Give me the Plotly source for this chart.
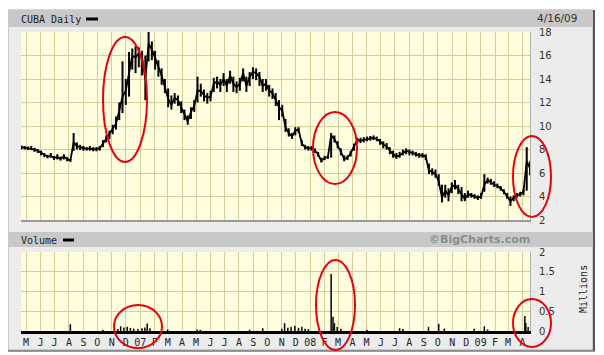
import plotly.graph_objects as go
import pandas as pd

# ---------------- data ----------------
week_start = "2006-04-21"
close_weekly = [
    8.2, 8.15, 8.1, 8.1, 8.0, 7.9, 7.7, 7.55, 7.4, 7.45,
    7.3, 7.35, 7.2, 7.4, 7.2, 7.05, 8.6, 8.3, 8.2, 8.1,
    8.05, 8.1, 8.0, 8.05, 8.1, 8.5, 8.9, 9.3, 9.7, 10.2,
    11.3, 12.5, 13.0, 14.5, 16.0, 15.8, 16.2, 15.8, 14.0, 17.0,
    16.5, 15.8, 15.0, 14.3, 13.3, 12.3, 11.8, 12.4, 12.2, 11.6,
    11.0, 10.4, 11.2, 11.7, 13.0, 13.0, 12.6, 12.4, 12.5, 13.6,
    13.8, 13.5, 14.0, 13.4, 14.3, 13.6, 13.3, 13.6, 14.5, 13.4,
    14.2, 14.6, 14.5, 14.2, 13.4, 13.6, 13.0, 12.8, 12.2, 11.6,
    11.3, 9.9, 9.4, 9.1, 9.6, 9.7, 8.5, 8.2, 8.1, 8.1,
    7.9, 7.6, 7.0, 7.3, 7.36, 9.2, 8.9, 8.4, 7.8, 7.2,
    7.3, 7.7, 8.2, 8.8, 8.75, 8.8, 8.9, 8.95, 9.0, 8.9,
    8.7, 8.4, 8.3, 7.9, 7.6, 7.4, 7.5, 7.7, 7.9, 7.8,
    7.7, 7.6, 7.5, 7.5, 7.4, 6.2, 6.1, 5.9, 5.3, 3.9,
    4.5, 4.1, 4.8, 5.0, 4.6, 4.3, 3.8, 4.2, 4.1, 4.0,
    3.9, 4.0, 5.0, 5.4, 5.2, 5.0, 4.9, 4.7, 4.4, 4.0,
    3.6, 3.9, 4.1, 4.2, 4.4, 7.0, 6.4,
]
low_weekly = [
    8.0, 8.0, 7.95, 7.95, 7.8, 7.7, 7.5, 7.35, 7.25, 7.3,
    7.1, 7.15, 7.05, 7.15, 7.0, 6.95, 7.9, 8.0, 7.95, 7.9,
    7.9, 7.9, 7.85, 7.85, 7.9, 8.2, 8.6, 8.9, 9.3, 9.7,
    10.5, 11.1, 11.8, 12.5, 14.8, 14.5, 15.0, 14.3, 12.2, 15.5,
    15.6, 14.8, 14.2, 13.5, 12.8, 11.6, 11.4, 11.9, 11.7, 11.1,
    10.5, 10.1, 10.6, 11.2, 12.0, 12.5, 12.1, 11.9, 12.1, 12.9,
    13.2, 12.9, 13.4, 12.9, 13.6, 12.9, 12.8, 13.0, 13.8, 12.9,
    13.4, 14.0, 13.9, 13.4, 12.9, 13.0, 12.5, 12.3, 11.7, 10.5,
    10.8, 9.5, 9.1, 8.9, 9.2, 9.4, 8.3, 8.0, 7.9, 7.9,
    7.7, 7.4, 6.9, 7.1, 7.2, 7.3, 8.6, 8.1, 7.5, 7.0,
    7.1, 7.4, 7.9, 8.5, 8.55, 8.6, 8.7, 8.75, 8.8, 8.7,
    8.4, 8.1, 8.0, 7.6, 7.3, 7.2, 7.3, 7.5, 7.6, 7.5,
    7.5, 7.4, 7.3, 7.3, 7.1, 5.9, 5.8, 5.6, 4.9, 3.5,
    3.9, 3.6, 4.3, 4.6, 4.2, 3.6, 3.6, 3.9, 3.9, 3.8,
    3.7, 3.8, 4.4, 5.1, 5.0, 4.8, 4.7, 4.5, 4.2, 3.8,
    3.2, 3.6, 3.9, 4.0, 4.1, 4.5, 5.8,
]
high_weekly = [
    8.35, 8.3, 8.25, 8.3, 8.15, 8.05, 7.9, 7.7, 7.55, 7.7,
    7.45, 7.6, 7.4, 7.6, 7.35, 7.2, 9.4, 8.6, 8.4, 8.3,
    8.2, 8.3, 8.2, 8.2, 8.3, 8.8, 9.2, 9.6, 10.1, 10.8,
    12.0, 15.5, 14.0, 16.3, 16.6, 16.8, 16.7, 16.4, 16.0, 18.0,
    17.2, 16.4, 15.6, 14.9, 14.0, 13.2, 12.6, 12.8, 12.6, 12.1,
    11.4, 10.9, 11.6, 12.2, 14.2, 13.6, 13.1, 12.8, 13.0, 14.1,
    14.2, 14.0, 14.5, 14.0, 14.7, 14.2, 13.8, 14.1, 14.9, 14.2,
    14.6, 15.0, 14.9, 14.6, 14.0, 14.0, 13.5, 13.2, 12.8, 12.2,
    11.8, 10.6, 9.8, 9.4, 9.9, 9.9, 8.8, 8.4, 8.3, 8.3,
    8.1, 7.8, 7.3, 7.45, 7.5, 9.4, 9.2, 8.7, 8.1, 7.5,
    7.5, 7.9, 8.5, 9.0, 9.0, 9.05, 9.1, 9.15, 9.2, 9.1,
    8.9, 8.7, 8.55, 8.2, 7.9, 7.7, 7.8, 8.0, 8.1, 8.0,
    7.9, 7.8, 7.7, 7.7, 7.6, 6.8, 6.4, 6.3, 5.9, 5.0,
    5.0, 4.7, 5.2, 5.4, 5.0, 4.8, 4.3, 4.5, 4.3, 4.2,
    4.1, 4.3, 5.9, 5.6, 5.5, 5.3, 5.1, 4.9, 4.6, 4.3,
    4.0, 4.1, 4.3, 4.4, 4.6, 8.2, 7.0,
]

vol_dates = ["2006-08-04", "2006-10-13", "2006-11-14", "2006-11-20", "2006-11-27",
             "2006-12-04", "2006-12-11", "2006-12-18", "2006-12-27", "2007-01-05",
             "2007-01-11", "2007-01-16", "2007-01-22", "2007-03-01", "2007-05-03",
             "2007-05-10", "2007-08-24", "2007-09-21", "2007-11-01", "2007-11-07",
             "2007-11-14", "2007-11-21", "2007-11-29", "2007-12-07", "2007-12-14",
             "2007-12-21", "2007-12-28", "2008-02-15", "2008-02-19", "2008-02-22",
             "2008-02-28", "2008-03-07", "2008-05-02", "2008-07-11", "2008-07-18",
             "2008-09-11", "2008-10-03", "2008-10-15", "2008-12-18", "2009-01-09",
             "2009-01-16", "2009-04-06", "2009-04-08", "2009-04-13"]
vol_values = [0.17, 0.03, 0.05, 0.12, 0.09,
              0.11, 0.08, 0.06, 0.05, 0.07,
              0.09, 0.19, 0.07, 0.04, 0.04,
              0.03, 0.03, 0.07, 0.06, 0.20,
              0.08, 0.10, 0.13, 0.08, 0.11,
              0.06, 0.05, 1.44, 0.36, 0.20,
              0.10, 0.06, 0.03, 0.07, 0.05,
              0.10, 0.18, 0.06, 0.06, 0.12,
              0.04, 0.38, 0.20, 0.10]

month_labels = ["M", "J", "J", "A", "S", "O", "N", "D", "07", "F", "M", "A",
                "M", "J", "J", "A", "S", "O", "N", "D", "08", "F", "M", "A",
                "M", "J", "J", "A", "S", "O", "N", "D", "09", "F", "M", "A"]
price_ticks = [2, 4, 6, 8, 10, 12, 14, 16, 18]
vol_ticks = [0, 0.5, 1, 1.5, 2]
vol_tick_text = ["0", "0.5", "1", "1.5", "2"]

# ---------------- derived ----------------
dates = pd.date_range(week_start, periods=len(close_weekly), freq="7D")
month_dates = pd.date_range("2006-05-01", periods=len(month_labels), freq="MS")

# the page body keeps its default 8px margin, so the figure starts 8px in
# from the window corner; all positions below are given in window pixels
OFF = 8
W, H = 604 - OFF, 355 - OFF
L, R, T, B = 21, 530, 32, 331  # plot area in window pixels


def px(x):
    return (x - L) / (R - L)


def py(y):
    return (B - y) / (B - T)


bx, by = [], []
for d, lo, hi in zip(dates, low_weekly, high_weekly):
    bx += [d, d, None]
    by += [lo, hi, None]

vx, vy = [], []
for d, v in zip(vol_dates, vol_values):
    vx += [d, d, None]
    vy += [0, v, None]

fig = go.Figure()
fig.add_trace(go.Scatter(x=bx, y=by, mode="lines",
                         line=dict(color="black", width=2), xaxis="x", yaxis="y"))
fig.add_trace(go.Scatter(x=dates, y=close_weekly, mode="lines",
                         line=dict(color="black", width=1.8), xaxis="x", yaxis="y"))
fig.add_trace(go.Scatter(x=vx, y=vy, mode="lines",
                         line=dict(color="black", width=1.5), xaxis="x2", yaxis="y2"))

GRID = "#d3cf9c"
MONO = "DejaVu Sans Mono"
SANS = "DejaVu Sans"
xrange_ = ["2006-04-20", "2009-04-17"]

fig.update_layout(
    width=W, height=H,
    margin=dict(l=L - OFF, r=W - (R - OFF), t=T - OFF, b=H - (B - OFF), pad=0,
                autoexpand=False),
    paper_bgcolor="white",
    plot_bgcolor="rgba(0,0,0,0)",
    showlegend=False,
    hovermode=False,
    xaxis=dict(domain=[0, 1], anchor="y", range=xrange_, type="date",
               tickvals=month_dates, showticklabels=False, ticks="", automargin=False,
               showgrid=True, gridcolor=GRID, gridwidth=1, zeroline=False,
               showline=True, linecolor="#9a9a9a", linewidth=2, fixedrange=True),
    xaxis2=dict(domain=[0, 1], anchor="y2", range=xrange_, type="date", matches="x",
                tickvals=month_dates, ticktext=month_labels, ticks="", automargin=False,
                ticklabelstandoff=0,
                tickfont=dict(family=MONO, size=10, color="#222"),
                showgrid=True, gridcolor=GRID, gridwidth=1, zeroline=False,
                showline=True, linecolor="black", linewidth=3, fixedrange=True),
    yaxis=dict(domain=[py(220), 1], anchor="x", side="right", range=[2, 18],
               tickvals=price_ticks, ticks="", ticklabelstandoff=6, automargin=False,
               tickfont=dict(family=SANS, size=10, color="#333"),
               showgrid=True, gridcolor=GRID, gridwidth=1, zeroline=False,
               showline=True, linecolor="#b0b0b0", linewidth=1, fixedrange=True),
    yaxis2=dict(domain=[0, py(252)], anchor="x2", side="right", range=[0, 2],
                tickvals=vol_ticks, ticktext=vol_tick_text, ticks="", ticklabelstandoff=6,
                automargin=False,
                tickfont=dict(family=SANS, size=10, color="#333"),
                showgrid=True, gridcolor=GRID, gridwidth=1, zeroline=False,
                showline=True, linecolor="#b0b0b0", linewidth=1, fixedrange=True),
)

shapes = []


def rect(x0, y0, x1, y1, fill, line=None, lw=0, layer="below"):
    shapes.append(dict(type="rect", xref="paper", yref="paper",
                       x0=px(x0), x1=px(x1), y0=py(y1), y1=py(y0),
                       fillcolor=fill, layer=layer,
                       line=dict(color=line or fill, width=lw)))


def seg(x0, y0, x1, y1, color, w, layer="below"):
    shapes.append(dict(type="line", xref="paper", yref="paper",
                       x0=px(x0), x1=px(x1), y0=py(y0), y1=py(y1),
                       layer=layer, line=dict(color=color, width=w)))


def ell(x0, y0, x1, y1):
    shapes.append(dict(type="circle", xref="paper", yref="paper",
                       x0=px(x0), x1=px(x1), y0=py(y1), y1=py(y0),
                       layer="above", line=dict(color="#e8000b", width=2)))


rect(OFF, 10, 593, 350, "#ececec", "#a8a8a8", 1)
seg(594, 10, 594, 351, "#555555", 2)
seg(OFF, 351, 595, 351, "#777777", 1.5)
rect(OFF, 10.5, 593, 27, "#c8c8c8")
rect(OFF, 232, 593, 247, "#c8c8c8")
rect(L, 32, R, 220, "#ffffe0")
rect(L, 252, R, 331, "#ffffe0")
seg(86, 19, 98, 19, "black", 3)
seg(63, 240, 74, 240, "black", 3)

ell(103, 37, 147, 162)
ell(313, 112, 357, 184)
ell(513, 136, 551, 217)
ell(114, 305, 162, 348)
ell(316, 260, 355, 350)
ell(513, 299, 551, 347)

fig.update_layout(shapes=shapes)


def text(s, x, y, xanchor="left", font=None, angle=0):
    fig.add_annotation(text=s, x=px(x), y=py(y), xref="paper", yref="paper",
                       xanchor=xanchor, yanchor="middle", showarrow=False,
                       textangle=angle, font=font, borderpad=0)


text("CUBA Daily", 20, 19, font=dict(family=MONO, size=10, color="#222"))
text("4/16/09", 536, 18, font=dict(family=SANS, size=10.5, color="#333"))
text("Volume", 20, 240, font=dict(family=MONO, size=10, color="#222"))
text("©BigCharts.com", 531, 239, xanchor="right",
     font=dict(family=SANS, size=11, color="#8c8c8c", weight="bold"))
text("Millions", 583, 289, xanchor="center",
     font=dict(family=MONO, size=10, color="#222"), angle=-90)

fig.write_html("out.html", config={"displayModeBar": False})
